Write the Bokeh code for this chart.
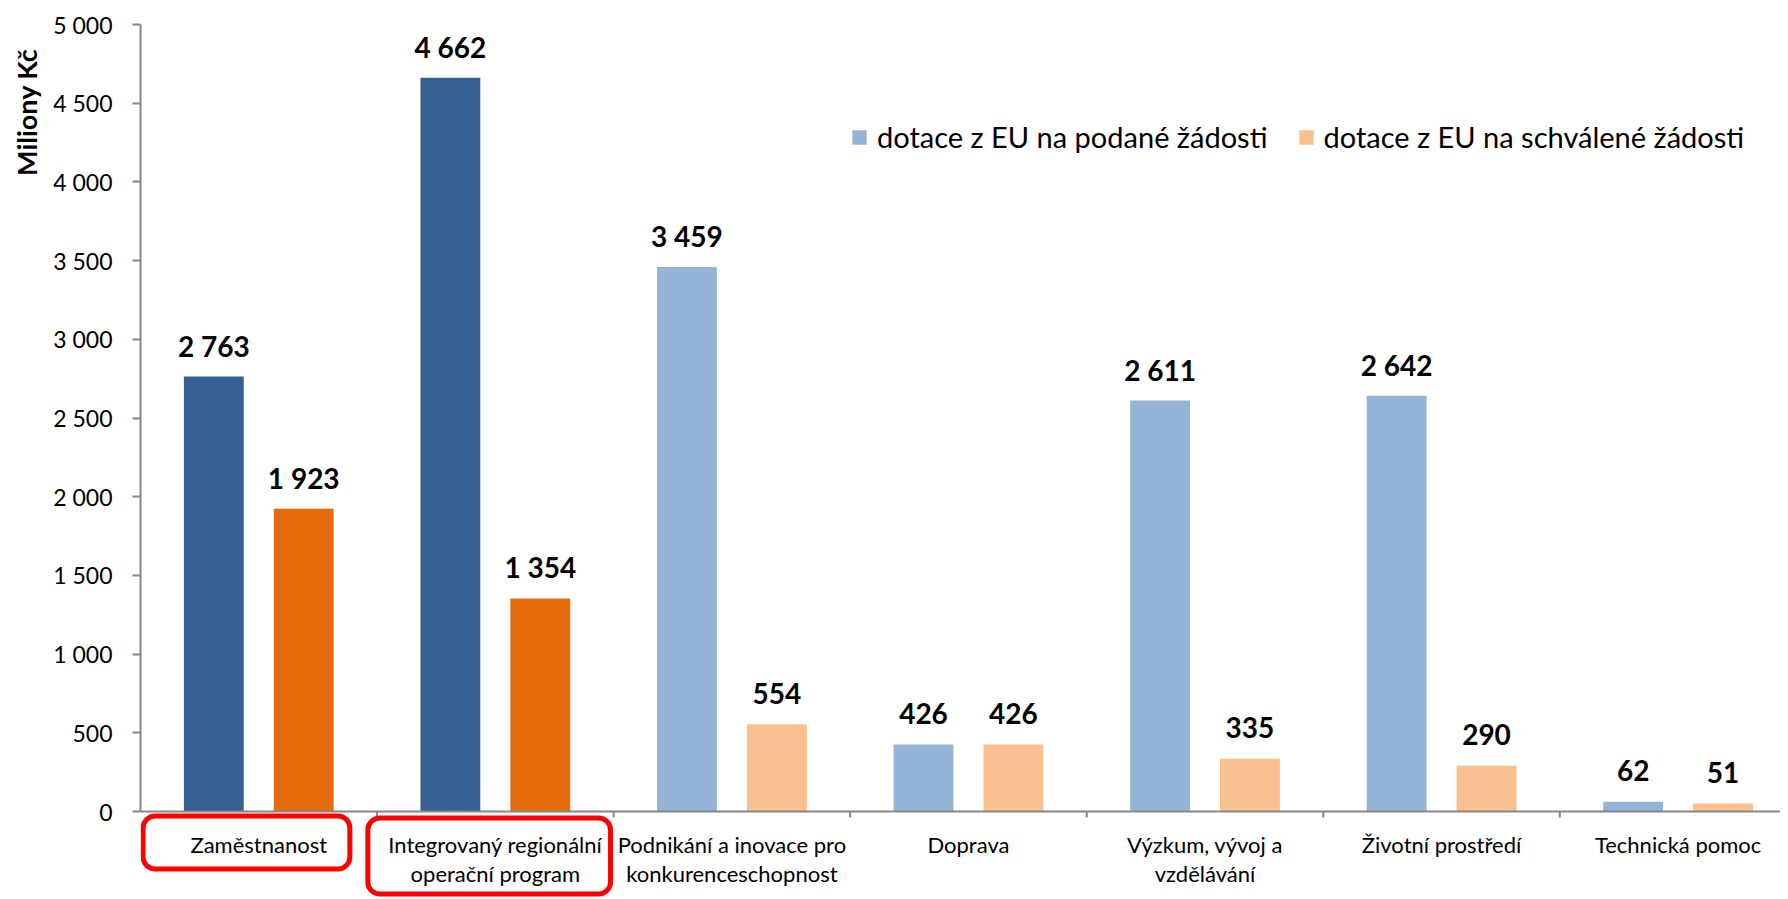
from bokeh.plotting import figure
from bokeh.models import (Range1d, FixedTicker, BoxAnnotation, Legend,
                          LegendItem, ColumnDataSource, Span, Title)
from bokeh.embed import file_html
from bokeh.resources import INLINE
from bokeh.core.properties import value

# ---- data ----
categories = [
    "Zaměstnanost",
    "Integrovaný regionální\noperační program",
    "Podnikání a inovace pro\nkonkurenceschopnost",
    "Doprava",
    "Výzkum, vývoj a\nvzdělávání",
    "Životní prostředí",
    "Technická pomoc",
]
podane = [2763, 4662, 3459, 426, 2611, 2642, 62]
schvalene = [1923, 1354, 554, 426, 335, 290, 51]
highlighted = [True, True, False, False, False, False, False]
series_names = ["dotace z EU na podané žádosti", "dotace z EU na schválené žádosti"]
y_ticks = [0, 500, 1000, 1500, 2000, 2500, 3000, 3500, 4000, 4500, 5000]
y_tick_labels = ["0", "500", "1 000", "1 500", "2 000", "2 500", "3 000",
                 "3 500", "4 000", "4 500", "5 000"]
y_axis_title = "Miliony Kč"

# ---- styles / layout ----
C_DARK_BLUE = "#376092"
C_DARK_ORANGE = "#E46C0A"
C_LIGHT_BLUE = "#95B3D7"
C_LIGHT_ORANGE = "#FAC090"
AXIS_COLOR = "#868686"
FONT = "Lato"
OFFSET = 0.19
BAR_W = 0.253

W, H = 1780, 897
LEFT, TOP = 139, 24
ZERO_PX = 811            # pixel row of value 0
Y_MAX = 5000
PX_PER_UNIT = (ZERO_PX - TOP) / Y_MAX
Y_MIN = -(H - ZERO_PX) / PX_PER_UNIT
CAT_PX = 236.7
X_MAX = (W - LEFT) / CAT_PX
TICK_LEN = 6 / PX_PER_UNIT


def px_below_zero(px):
    return -(px - ZERO_PX) / PX_PER_UNIT


def fmt(v):
    return f"{v:,}".replace(",", " ")


n = len(categories)
centers = [i + 0.5 for i in range(n)]

src1 = ColumnDataSource(dict(
    x=[c - OFFSET for c in centers], top=podane,
    color=[C_DARK_BLUE if h else C_LIGHT_BLUE for h in highlighted],
    label=[fmt(v) for v in podane]))
src2 = ColumnDataSource(dict(
    x=[c + OFFSET for c in centers], top=schvalene,
    color=[C_DARK_ORANGE if h else C_LIGHT_ORANGE for h in highlighted],
    label=[fmt(v) for v in schvalene]))

p = figure(width=W, height=H, x_range=Range1d(0, X_MAX),
           y_range=Range1d(Y_MIN, Y_MAX), output_backend="svg",
           toolbar_location=None, x_axis_location=None,
           min_border_left=LEFT, min_border_right=0,
           min_border_top=TOP, min_border_bottom=0)
p.outline_line_color = None
p.xgrid.visible = False
p.ygrid.visible = False
p.background_fill_color = "white"

r1 = p.vbar(x="x", top="top", width=BAR_W, bottom=0, fill_color="color",
            line_color=None, source=src1)
r2 = p.vbar(x="x", top="top", width=BAR_W, bottom=0, fill_color="color",
            line_color=None, source=src2)

for s in (src1, src2):
    p.text(x="x", y="top", text="label", source=s, y_offset=-31,
           text_align="center", text_baseline="alphabetic",
           text_font=value(FONT), text_font_style="bold",
           text_font_size="28px", text_color="black")

# category axis (drawn at value 0)
p.add_layout(Span(location=0, dimension="width", line_color=AXIS_COLOR,
                  line_width=2))
bounds = list(range(1, n))
p.segment(x0=bounds, y0=[0] * len(bounds), x1=bounds,
          y1=[-TICK_LEN] * len(bounds), line_color=AXIS_COLOR, line_width=2)
p.text(x=centers, y=[0] * n, text=categories, y_offset=19,
       text_align="center", text_baseline="top", text_line_height=1.08,
       text_font=value(FONT), text_font_size="22px", text_color="black")

# y axis
ya = p.yaxis[0]
ya.bounds = (0, Y_MAX)
ya.ticker = FixedTicker(ticks=y_ticks)
ya.major_label_overrides = {t: l for t, l in zip(y_ticks, y_tick_labels)}
ya.major_tick_out = 8
ya.major_tick_in = 0
ya.minor_tick_line_color = None
ya.major_tick_line_color = AXIS_COLOR
ya.major_tick_line_width = 2
ya.axis_line_color = AXIS_COLOR
ya.axis_line_width = 2
ya.major_label_text_font = FONT
ya.major_label_text_font_size = "23px"
ya.major_label_text_color = "black"
ya.major_label_standoff = 20

# rotated y title near the top of the value axis
p.add_layout(Title(text=y_axis_title, align="right", offset=24, standoff=15,
                   text_font=FONT, text_font_style="bold",
                   text_font_size="27px", text_color="black"), "left")

# highlight boxes around first two category labels
for lft, rgt, tp, bt in ((0.011, 0.885, px_below_zero(815.5), px_below_zero(868.5)),
                         (0.961, 1.987, px_below_zero(817.5), px_below_zero(893.5))):
    p.add_layout(BoxAnnotation(left=lft, right=rgt, top=tp, bottom=bt,
                               fill_alpha=0, line_color="red", line_alpha=1,
                               line_width=5, border_radius=12))

legend = Legend(items=[
    LegendItem(label=series_names[0], renderers=[r1], index=2),
    LegendItem(label=series_names[1], renderers=[r2], index=2)],
    orientation="horizontal", location=(710, H - 154), padding=0, margin=0,
    spacing=29, label_standoff=9, glyph_width=18, glyph_height=18,
    border_line_alpha=0, background_fill_alpha=0,
    label_text_font=FONT, label_text_font_size="29px",
    label_text_color="black")
p.add_layout(legend, "center")

open("out.html", "w").write(file_html(p, INLINE))
